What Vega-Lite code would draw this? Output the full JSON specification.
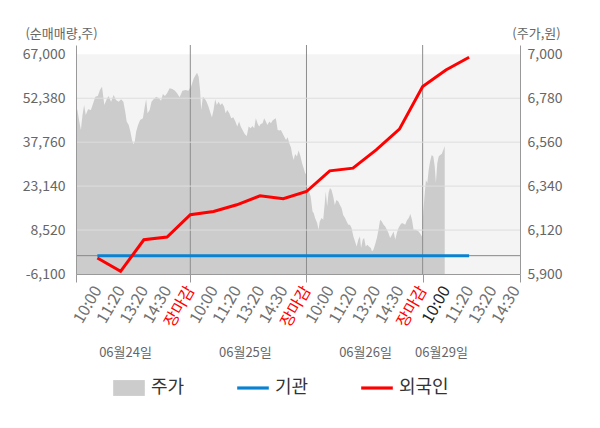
{
  "$schema": "https://vega.github.io/schema/vega-lite/v6.json",
  "width": 444,
  "height": 229,
  "autosize": "none",
  "padding": {"left": 76, "top": 45, "right": 80, "bottom": 154},
  "background": "white",
  "config": {
    "font": "Noto Sans CJK KR",
    "view": {"stroke": null}
  },
  "datasets": {
    "price": [
      {"u":0.08,"p":6738},{"u":0.14,"p":6721},{"u":0.21,"p":6671},{"u":0.29,"p":6621},{"u":0.36,"p":6696},{"u":0.43,"p":6746},{"u":0.50,"p":6696},{"u":0.60,"p":6725},{"u":0.72,"p":6721},{"u":0.82,"p":6755},
      {"u":0.91,"p":6788},{"u":1.02,"p":6791},{"u":1.11,"p":6821},{"u":1.20,"p":6838},{"u":1.30,"p":6746},{"u":1.40,"p":6775},{"u":1.48,"p":6791},{"u":1.59,"p":6763},{"u":1.70,"p":6796},{"u":1.80,"p":6771},
      {"u":1.92,"p":6763},{"u":2.02,"p":6775},{"u":2.12,"p":6763},{"u":2.21,"p":6705},{"u":2.26,"p":6663},{"u":2.35,"p":6646},{"u":2.42,"p":6613},{"u":2.49,"p":6571},{"u":2.55,"p":6550},{"u":2.61,"p":6563},
      {"u":2.67,"p":6613},{"u":2.75,"p":6646},{"u":2.84,"p":6671},{"u":2.96,"p":6680},{"u":3.04,"p":6738},{"u":3.10,"p":6775},{"u":3.16,"p":6705},{"u":3.25,"p":6721},{"u":3.33,"p":6763},{"u":3.42,"p":6775},
      {"u":3.53,"p":6788},{"u":3.65,"p":6780},{"u":3.74,"p":6768},{"u":3.82,"p":6801},{"u":3.91,"p":6791},{"u":4.00,"p":6805},{"u":4.11,"p":6830},{"u":4.23,"p":6826},{"u":4.34,"p":6818},{"u":4.43,"p":6805},
      {"u":4.54,"p":6785},{"u":4.66,"p":6818},{"u":4.80,"p":6821},{"u":4.92,"p":6818},{"u":4.98,"p":6830},
      {"u":5.03,"p":6838},{"u":5.15,"p":6880},{"u":5.23,"p":6896},{"u":5.29,"p":6908},{"u":5.36,"p":6888},{"u":5.42,"p":6821},{"u":5.47,"p":6721},{"u":5.54,"p":6788},{"u":5.61,"p":6780},{"u":5.70,"p":6763},
      {"u":5.78,"p":6738},{"u":5.87,"p":6705},{"u":5.93,"p":6685},{"u":6.00,"p":6721},{"u":6.07,"p":6775},{"u":6.14,"p":6746},{"u":6.22,"p":6763},{"u":6.29,"p":6746},{"u":6.37,"p":6755},{"u":6.45,"p":6738},
      {"u":6.52,"p":6705},{"u":6.59,"p":6721},{"u":6.68,"p":6705},{"u":6.76,"p":6680},{"u":6.85,"p":6685},{"u":6.94,"p":6663},{"u":7.02,"p":6638},{"u":7.10,"p":6663},{"u":7.17,"p":6638},{"u":7.26,"p":6618},
      {"u":7.34,"p":6601},{"u":7.43,"p":6591},{"u":7.51,"p":6638},{"u":7.60,"p":6630},{"u":7.67,"p":6641},{"u":7.75,"p":6630},{"u":7.82,"p":6680},{"u":7.89,"p":6655},{"u":7.96,"p":6638},{"u":8.03,"p":6651},
      {"u":8.11,"p":6655},{"u":8.18,"p":6680},{"u":8.25,"p":6663},{"u":8.32,"p":6646},{"u":8.40,"p":6663},{"u":8.47,"p":6655},{"u":8.54,"p":6668},{"u":8.61,"p":6675},{"u":8.68,"p":6680},{"u":8.76,"p":6621},
      {"u":8.83,"p":6618},{"u":8.90,"p":6621},{"u":8.97,"p":6605},{"u":9.04,"p":6588},{"u":9.12,"p":6571},{"u":9.19,"p":6585},{"u":9.26,"p":6555},{"u":9.33,"p":6535},{"u":9.39,"p":6496},{"u":9.45,"p":6471},
      {"u":9.51,"p":6501},{"u":9.59,"p":6488},{"u":9.66,"p":6518},{"u":9.74,"p":6490},{"u":9.81,"p":6455},{"u":9.88,"p":6430},{"u":9.94,"p":6405},{"u":9.99,"p":6400},
      {"u":10.02,"p":6338},{"u":10.11,"p":6313},{"u":10.18,"p":6288},{"u":10.26,"p":6213},{"u":10.31,"p":6205},{"u":10.37,"p":6180},{"u":10.46,"p":6155},{"u":10.52,"p":6121},{"u":10.57,"p":6163},{"u":10.65,"p":6180},
      {"u":10.72,"p":6171},{"u":10.78,"p":6246},{"u":10.83,"p":6313},{"u":10.89,"p":6238},{"u":10.95,"p":6305},{"u":11.01,"p":6330},{"u":11.08,"p":6321},{"u":11.15,"p":6288},{"u":11.22,"p":6246},{"u":11.29,"p":6271},
      {"u":11.37,"p":6263},{"u":11.44,"p":6246},{"u":11.51,"p":6230},{"u":11.58,"p":6196},{"u":11.66,"p":6180},{"u":11.73,"p":6163},{"u":11.80,"p":6146},{"u":11.87,"p":6146},{"u":11.94,"p":6130},{"u":12.02,"p":6088},
      {"u":12.09,"p":6063},{"u":12.16,"p":6038},{"u":12.23,"p":6071},{"u":12.30,"p":6088},{"u":12.35,"p":6030},{"u":12.42,"p":6071},{"u":12.48,"p":6080},{"u":12.55,"p":6038},{"u":12.62,"p":6046},{"u":12.69,"p":6038},
      {"u":12.77,"p":6030},{"u":12.82,"p":6013},{"u":12.88,"p":6021},{"u":12.95,"p":6046},{"u":13.03,"p":6080},{"u":13.10,"p":6121},{"u":13.17,"p":6171},{"u":13.24,"p":6163},{"u":13.32,"p":6146},{"u":13.39,"p":6138},
      {"u":13.46,"p":6121},{"u":13.53,"p":6105},{"u":13.60,"p":6080},{"u":13.68,"p":6096},{"u":13.75,"p":6113},{"u":13.82,"p":6071},{"u":13.89,"p":6105},{"u":13.96,"p":6130},{"u":14.04,"p":6146},{"u":14.11,"p":6155},
      {"u":14.18,"p":6151},{"u":14.25,"p":6146},{"u":14.32,"p":6168},{"u":14.40,"p":6180},{"u":14.47,"p":6201},{"u":14.54,"p":6171},{"u":14.61,"p":6121},{"u":14.69,"p":6121},{"u":14.76,"p":6118},{"u":14.83,"p":6113},
      {"u":14.90,"p":6101},{"u":14.97,"p":6088},
      {"u":15.03,"p":6221},{"u":15.08,"p":6288},{"u":15.14,"p":6371},{"u":15.20,"p":6355},{"u":15.26,"p":6421},{"u":15.32,"p":6463},{"u":15.39,"p":6496},{"u":15.46,"p":6488},{"u":15.52,"p":6438},{"u":15.57,"p":6355},
      {"u":15.63,"p":6455},{"u":15.69,"p":6488},{"u":15.75,"p":6496},{"u":15.82,"p":6501},{"u":15.89,"p":6521},{"u":15.95,"p":6541}
    ],
    "inst": [
      {"u":1,"v":0},{"u":2,"v":0},{"u":3,"v":0},{"u":4,"v":0},{"u":5,"v":0},{"u":6,"v":0},{"u":7,"v":0},{"u":8,"v":0},{"u":9,"v":0},
      {"u":10,"v":0},{"u":11,"v":0},{"u":12,"v":0},{"u":13,"v":0},{"u":14,"v":0},{"u":15,"v":0},{"u":16,"v":0},{"u":17,"v":0}
    ],
    "foreign": [
      {"u":1,"v":-783},{"u":2,"v":-5236},{"u":3,"v":5298},{"u":4,"v":6195},{"u":5,"v":13605},{"u":6,"v":14702},{"u":7,"v":16928},{"u":8,"v":19919},{"u":9,"v":18922},
      {"u":10,"v":21348},{"u":11,"v":28227},{"u":12,"v":29124},{"u":13,"v":35205},{"u":14,"v":42084},{"u":15,"v":56239},{"u":16,"v":61789},{"u":17,"v":66009}
    ],
    "grid": [{"g":8520},{"g":23140},{"g":37760},{"g":52380}],
    "days": [{"u":5},{"u":10},{"u":15}]
  },
  "layer": [
    {
      "data": {"values": [{}]},
      "mark": {"type": "rect", "color": "#f4f4f4"},
      "encoding": {
        "x": {"datum": 0.08, "type": "quantitative", "scale": {"domain": [0.08, 19.19], "nice": false, "zero": false}, "axis": null},
        "x2": {"datum": 19.19},
        "y": {"datum": 5900, "type": "quantitative", "scale": {"domain": [5900, 7046.5], "nice": false, "zero": false}, "axis": null},
        "y2": {"datum": 7000}
      }
    },
    {
      "data": {"name": "price"},
      "mark": {"type": "area", "opacity": 1},
      "encoding": {
        "x": {
          "field": "u", "type": "quantitative",
          "scale": {"domain": [0.08, 19.19], "nice": false, "zero": false},
          "axis": {
            "orient": "bottom", "title": null, "grid": false, "domain": false, "ticks": false,
            "values": [1,2,3,4,5,6,7,8,9,10,11,12,13,14,15,16,17,18,19],
            "labelExpr": "['10:00','11:20','13:20','14:30','장마감'][(datum.value - 1) % 5]",
            "labelAngle": -60, "labelAlign": "right", "labelBaseline": "middle",
            "labelPadding": 13, "labelFontSize": 16,
            "labelColor": {"condition": [{"test": "datum.value % 5 === 0", "value": "#ff0000"}, {"test": "datum.value === 16", "value": "#222222"}], "value": "#707070"},
            "labelOverlap": false, "labelFlush": false, "labelBound": false
          }
        },
        "y": {
          "field": "p", "type": "quantitative",
          "scale": {"domain": [5900, 7046.5], "nice": false, "zero": false},
          "axis": {
            "orient": "right", "values": [5900, 6120, 6340, 6560, 6780, 7000],
            "labelExpr": "format(datum.value, ',')",
            "title": "(주가,원)", "titleAngle": 0, "titleAlign": "center", "titleBaseline": "middle",
            "titleX": 16, "titleY": -12, "titleFontSize": 13, "titleFontWeight": "normal", "titleColor": "#666666",
            "labelFontSize": 14, "labelColor": "#666666", "labelPadding": 7,
            "ticks": false, "domain": true, "domainColor": "#999999", "grid": false,
            "labelFlush": false, "labelOverlap": false, "zindex": 1
          }
        },
        "y2": {"datum": 5900},
        "color": {
          "datum": "주가",
          "scale": {"domain": ["주가", "기관", "외국인"], "range": ["#cccccc", "#0a82d2", "#ff0000"]},
          "legend": {
            "title": null, "orient": "none", "legendX": 37, "legendY": 327, "direction": "horizontal",
            "padding": 0, "symbolSize": 1000, "labelFontSize": 18, "labelColor": "#333333",
            "columnPadding": 52, "labelOffset": 6, "symbolStrokeWidth": 0,
            "symbolType": {"expr": "datum.value === '주가' ? 'M-1,-0.5H1V0.5H-1Z' : 'M-1,-0.1H1V0.1H-1Z'"}
          }
        }
      }
    },
    {
      "data": {"name": "days"},
      "mark": {"type": "rule", "color": "#8c8c8c", "strokeWidth": 1},
      "encoding": {
        "x": {
          "field": "u", "type": "quantitative",
          "scale": {"domain": [0.08, 19.19], "nice": false, "zero": false},
          "axis": {
            "orient": "bottom", "title": null, "grid": false, "labels": false,
            "values": [0.08, 5, 10, 15, 19.19],
            "ticks": true, "tickSize": 8, "tickColor": "#999999",
            "domain": true, "domainColor": "#999999", "zindex": 1
          }
        }
      }
    },
    {
      "data": {"name": "grid"},
      "mark": {"type": "rule", "color": "#dddddd", "strokeWidth": 1},
      "encoding": {
        "y": {
          "field": "g", "type": "quantitative",
          "scale": {"domain": [-6100, 70090], "nice": false, "zero": false},
          "axis": {
            "orient": "left", "values": [-6100, 8520, 23140, 37760, 52380, 67000],
            "labelExpr": "datum.value < 0 ? '-' + format(-datum.value, ',') : format(datum.value, ',')",
            "title": "(순매매량,주)", "titleAngle": 0, "titleAlign": "center", "titleBaseline": "middle",
            "titleX": -15, "titleY": -12, "titleFontSize": 13, "titleFontWeight": "normal", "titleColor": "#666666",
            "labelFontSize": 14, "labelColor": "#666666", "labelPadding": 11,
            "ticks": false, "domain": true, "domainColor": "#999999", "grid": false,
            "labelFlush": false, "labelOverlap": false, "zindex": 1
          }
        }
      }
    },
    {
      "data": {"values": [{}]},
      "mark": {"type": "rule", "color": "#888888", "strokeWidth": 1},
      "encoding": {
        "y": {"datum": 0, "type": "quantitative", "scale": {"domain": [-6100, 70090], "nice": false, "zero": false}, "axis": null}
      }
    },
    {
      "data": {"name": "inst"},
      "mark": {"type": "line", "strokeWidth": 3},
      "encoding": {
        "x": {
          "field": "u", "type": "quantitative",
          "scale": {"domain": [0.08, 19.19], "nice": false, "zero": false},
          "axis": {
            "orient": "bottom", "title": null, "grid": false, "domain": false, "ticks": false,
            "values": [2.19, 7.35, 12.52, 15.79],
            "labelExpr": "datum.value < 5 ? '06월24일' : (datum.value < 10 ? '06월25일' : (datum.value < 15 ? '06월26일' : '06월29일'))",
            "labelBaseline": "middle", "labelPadding": 78, "labelFontSize": 13, "labelColor": "#666666",
            "labelOverlap": false, "labelFlush": false
          }
        },
        "y": {"field": "v", "type": "quantitative", "scale": {"domain": [-6100, 70090], "nice": false, "zero": false}, "axis": null},
        "color": {"datum": "기관"}
      }
    },
    {
      "data": {"name": "foreign"},
      "mark": {"type": "line", "strokeWidth": 3},
      "encoding": {
        "x": {"field": "u", "type": "quantitative", "scale": {"domain": [0.08, 19.19], "nice": false, "zero": false}, "axis": null},
        "y": {"field": "v", "type": "quantitative", "scale": {"domain": [-6100, 70090], "nice": false, "zero": false}, "axis": null},
        "color": {"datum": "외국인"}
      }
    }
  ],
  "resolve": {"scale": {"y": "independent"}, "axis": {"x": "independent", "y": "independent"}}
}
